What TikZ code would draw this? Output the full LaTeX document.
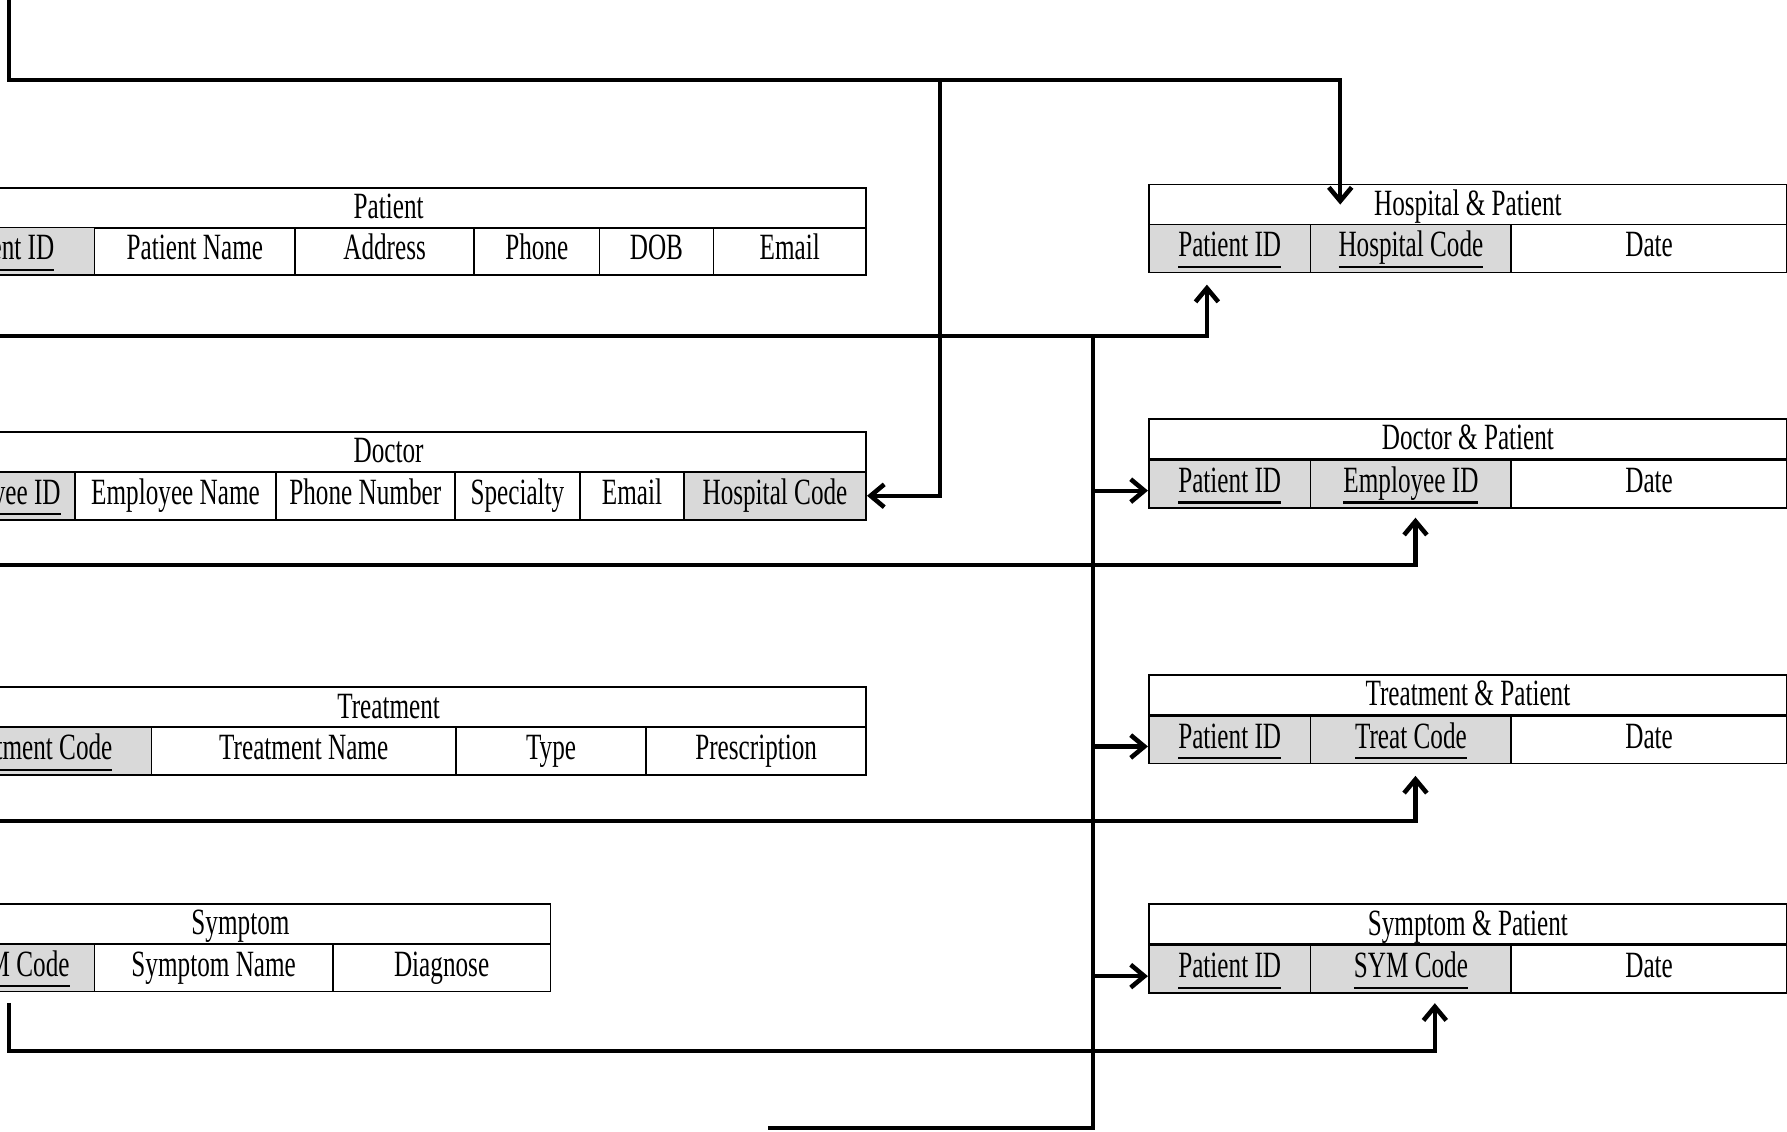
\documentclass[tikz,border=0pt]{standalone}
\usepackage{fontspec}
\setmainfont{Liberation Serif}[FakeStretch=0.68]
\usetikzlibrary{arrows.meta}
\definecolor{keygray}{gray}{0.85}
\newcommand{\pk}[1]{\vtop{\hbox{#1\vphantom{py}}\kern1pt\hrule height 1.8pt}}

\begin{document}
\begin{tikzpicture}[
    x = 1pt, y = -1pt,
    cell/.style = {
        draw,
        line width = 1.5pt,
        inner sep = 0pt,
        text height = 22pt,
        text depth = 7pt,
        minimum height = 42pt,
        font = \fontsize{32.5}{38}\selectfont
    },
    keycell/.style = {cell, fill = keygray},
    title/.style = {cell, minimum height = 35pt, text height = 24pt, text depth = 5pt},
    wire/.style = {line width = 3.6pt},
    link/.style = {wire, -{Straight Barb[length=12pt, width=20pt, line width=4pt]}}
]
\useasboundingbox (0,0) rectangle (1568,993);

% Patient table
\node[title, minimum width = 838] (pat-title) at (341,182.5) {Patient};
\foreach \l / \r / \s / \n / \txt in {-78/83/keycell/id/\pk{Patient ID}, 83/259/cell/name/Patient Name,
    259/416/cell/addr/Address, 416/526/cell/phone/Phone, 526/626/cell/dob/DOB, 626/760/cell/email/Email} {
    \node[\s, minimum width = {\r-(\l)}] (pat-\n) at ({(\l+\r)/2},220.5) {\txt};
}

% Doctor table
\node[title, minimum width = 838] (doc-title) at (341,396.5) {Doctor};
\foreach \l / \r / \s / \n / \txt in {-78/66/keycell/id/\pk{Employee ID}, 66/242/cell/name/Employee Name,
    242/399/cell/phone/Phone Number, 399/509/cell/spec/Specialty, 509/600/cell/email/Email,
    600/760/keycell/hcode/Hospital Code} {
    \node[\s, minimum width = {\r-(\l)}] (doc-\n) at ({(\l+\r)/2},435) {\txt};
}

% Treatment table
\node[title, minimum width = 838] (trt-title) at (341,620.5) {Treatment};
\foreach \l / \r / \s / \n / \txt in {-78/133/keycell/code/\pk{Treatment Code}, 133/400/cell/name/Treatment Name,
    400/567/cell/type/Type, 567/760/cell/presc/Prescription} {
    \node[\s, minimum width = {\r-(\l)}] (trt-\n) at ({(\l+\r)/2},659) {\txt};
}

% Symptom table
\node[title, minimum width = 544] (sym-title) at (211,810.5) {Symptom};
\foreach \l / \r / \s / \n / \txt in {-61/83/keycell/code/\pk{SYM Code}, 83/292/cell/name/Symptom Name,
    292/483/cell/diag/Diagnose} {
    \node[\s, minimum width = {\r-(\l)}] (sym-\n) at ({(\l+\r)/2},849) {\txt};
}

% Link tables (right column)
\foreach \t / \ttl / \key / \yt / \yr in {hp/Hospital \& Patient/Hospital Code/179.5/218,
    dp/Doctor \& Patient/Employee ID/385/424.5, tp/Treatment \& Patient/Treat Code/609.5/649,
    sp/Symptom \& Patient/SYM Code/811/850.5} {
    \node[title, minimum width = 560] (\t-title) at (1288,\yt) {\ttl};
    \node[keycell, minimum width = 142] (\t-pid) at (1079,\yr) {\pk{Patient ID}};
    \node[keycell, minimum width = 176] (\t-key) at (1238,\yr) {\pk{\key}};
    \node[cell, minimum width = 242] (\t-date) at (1447,\yr) {Date};
}

% Hospital code links
\coordinate (hsrc) at (8,-5);
\coordinate (hdrop) at (1176,70);
\coordinate (hjoin) at (825,70);
\draw[link] (hsrc) |- (hdrop) -- (hdrop |- hp-title.center);
\draw[link] (hjoin) |- (doc-hcode.east);

% Patient ID links
\coordinate (psrc) at (-5,295);
\coordinate (prise) at (1059,295);
\coordinate (pjoin) at (959,295);
\coordinate (pend) at (674,990);
\draw[link, shorten > = 10pt] (psrc) -| (prise |- hp-pid.south);
\draw[wire] (pjoin) |- (pend);
\foreach \t in {dp, tp, sp} {
    \path (\t-pid.west) ++(0,6) coordinate (\t-in);
    \draw[link] (pjoin |- \t-in) -- (\t-in);
}

% Employee ID, treatment and symptom links
\coordinate (dsrc) at (-5,496);
\coordinate (drise) at (1242,496);
\draw[link, shorten > = 8pt] (dsrc) -| (drise |- dp-key.south);
\coordinate (tsrc) at (-5,720);
\coordinate (trise) at (1242,720);
\draw[link, shorten > = 10pt] (tsrc) -| (trise |- tp-key.south);
\coordinate (ssrc) at (8,880);
\coordinate (sbend) at (1259,922);
\draw[link, shorten > = 8pt] (ssrc) |- (sbend) -- (sbend |- sp-key.south);

\end{tikzpicture}
\end{document}
